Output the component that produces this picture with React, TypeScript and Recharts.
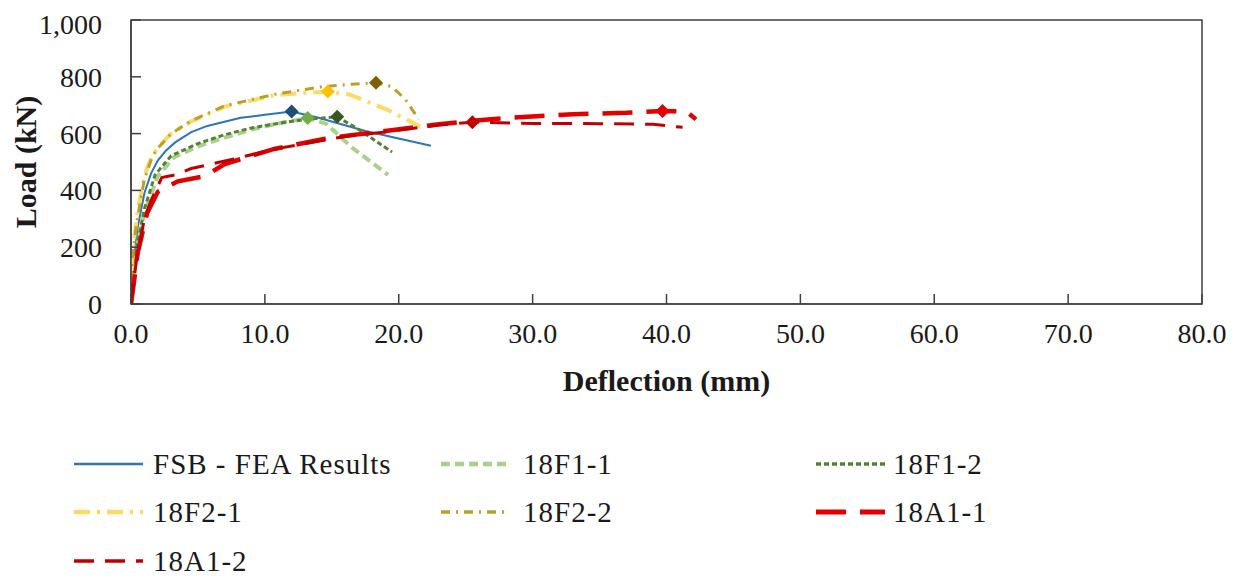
import React from "react";
import {
  ComposedChart,
  Line,
  Scatter,
  XAxis,
  YAxis,
  Legend,
  ReferenceArea,
} from "recharts";

// deflection (mm) / load (kN)
const fsbDefl = [0, 0.2, 0.5, 1, 1.5, 2, 2.6, 3.3, 4.5, 5.7, 8.2, 10, 12, 14, 17.5, 22.4];
const fsbLoad = [0, 150, 270, 390, 460, 505, 540, 569, 605, 627, 656, 666, 678, 656, 609, 557];

const f11Defl = [0, 0.2, 0.5, 1, 2, 3.2, 5, 7, 9.1, 10.7, 13.2, 14.6, 16.5, 19.2];
const f11Load = [0, 120, 210, 320, 450, 516, 555, 586, 615, 633, 655, 634, 551, 455];

const f12Defl = [0, 0.2, 0.4, 1, 1.8, 3, 5, 7, 9, 11.5, 13.5, 15.4, 17, 19.5];
const f12Load = [0, 110, 190, 335, 455, 522, 565, 596, 620, 640, 652, 659, 615, 535];

const f21Defl = [0, 0.1, 0.5, 1, 1.5, 2, 3, 4.5, 7, 10.7, 12.5, 14.7, 16.3, 19.2, 21.6];
const f21Load = [0, 180, 330, 450, 515, 550, 600, 643, 695, 735, 742, 748, 738, 683, 625];

const f22Defl = [0, 0.1, 0.4, 1, 1.6, 2, 3, 4.5, 7, 10.7, 12, 14.4, 16.5, 18.3, 19.5, 20.5, 21.5];
const f22Load = [0, 160, 280, 440, 520, 548, 600, 645, 698, 738, 748, 766, 774, 779, 765, 720, 650];

const a11Defl = [0, 0.2, 0.5, 1.2, 2, 3.5, 5.5, 7, 10.7, 14.4, 16, 19, 23, 25.5, 28.3, 33, 37, 39.7, 41.5, 42.2];
const a11Load = [0, 70, 180, 320, 395, 432, 450, 493, 546, 581, 592, 609, 633, 645, 656, 668, 673, 680, 678, 650];

const a12Defl = [0, 0.2, 0.4, 1, 1.5, 2.3, 3.3, 4.5, 7.7, 11, 16, 19, 23, 25.5, 30, 35, 39, 41.2];
const a12Load = [0, 80, 150, 300, 365, 445, 455, 477, 511, 548, 590, 606, 630, 640, 636, 635, 633, 622];

const xTicks = [0, 10, 20, 30, 40, 50, 60, 70, 80];
const yTicks = [0, 200, 400, 600, 800, 1000];

const zip = (xs: number[], ys: number[]) => xs.map((x, i) => ({ x, y: ys[i] }));

const series = [
  { name: "FSB - FEA Results", data: zip(fsbDefl, fsbLoad), color: "#2E75B6", width: 2, dash: undefined, marker: "#1F4E79" },
  { name: "18F1-1", data: zip(f11Defl, f11Load), color: "#A9D18E", width: 4, dash: "9 5", marker: "#70AD47" },
  { name: "18F1-2", data: zip(f12Defl, f12Load), color: "#548235", width: 3, dash: "5 3", marker: "#385723" },
  { name: "18F2-1", data: zip(f21Defl, f21Load), color: "#FFD966", width: 4, dash: "16 7 3 7", marker: "#FFC000" },
  { name: "18F2-2", data: zip(f22Defl, f22Load), color: "#B8A02A", width: 3, dash: "9 6 2 6", marker: "#7F6000" },
  { name: "18A1-1", data: zip(a11Defl, a11Load), color: "#E00000", width: 4.5, dash: "30 14", marker: "#E00000" },
  { name: "18A1-2", data: zip(a12Defl, a12Load), color: "#C00000", width: 3, dash: "20 11", marker: "#C00000" },
];

const peakOf = (pts: { x: number; y: number }[]) =>
  pts.reduce((best, p) => (p.y > best.y ? p : best), pts[0]);

const font = "'Liberation Serif', 'Times New Roman', serif";

const Diamond = (color: string) => (props: any) => {
  const { cx, cy } = props;
  const r = 7;
  return (
    <polygon
      points={`${cx},${cy - r} ${cx + r},${cy} ${cx},${cy + r} ${cx - r},${cy}`}
      fill={color}
    />
  );
};

// legend slots, chart coords: symbol start, text start
const legendCols = [65, 432, 807];
const legendText = [145, 515, 885];
const legendRows = [24, 72, 121];

const LegendBox = () => (
  <div style={{ position: "relative", width: 1234, height: 140, fontFamily: font }}>
    {series.map((s, i) => {
      const col = i % 3;
      const top = legendRows[Math.floor(i / 3)];
      return (
        <React.Fragment key={s.name}>
          <svg
            width={72}
            height={20}
            style={{ position: "absolute", left: legendCols[col], top: top - 10 }}
          >
            <line x1={1} y1={10} x2={70} y2={10} stroke={s.color} strokeWidth={s.width + 0.5} strokeDasharray={s.dash} />
          </svg>
          <span
            style={{
              position: "absolute",
              left: legendText[col],
              top: top - 18,
              lineHeight: "36px",
              fontSize: 29,
              letterSpacing: 1,
              color: "#1a1a1a",
              whiteSpace: "nowrap",
            }}
          >
            {s.name}
          </span>
        </React.Fragment>
      );
    })}
  </div>
);

export default function App() {
  return (
    <ComposedChart
      width={1234}
      height={572}
      margin={{ top: 12, right: 40, left: 5, bottom: 0 }}
    >
      <XAxis
        type="number"
        dataKey="x"
        domain={[0, 80]}
        ticks={xTicks}
        tickFormatter={(v: number) => v.toFixed(1)}
        allowDataOverflow
        height={136}
        stroke="#404040"
        strokeWidth={1.5}
        tickSize={-10}
        tickMargin={29}
        tick={{ fill: "#1a1a1a", fontSize: 28, fontFamily: font }}
        label={{
          value: "Deflection (mm)",
          position: "insideTop",
          offset: 66,
          style: { fontFamily: font, fontSize: 30, fontWeight: "bold", fill: "#1a1a1a" },
        }}
      />
      <YAxis
        type="number"
        dataKey="y"
        domain={[0, 1000]}
        ticks={yTicks}
        tickFormatter={(v: number) => v.toLocaleString("en-US")}
        width={118}
        stroke="#404040"
        strokeWidth={1.5}
        tickSize={-10}
        tickMargin={39}
        tick={{ fill: "#1a1a1a", fontSize: 28, fontFamily: font }}
        label={{
          value: "Load (kN)",
          angle: -90,
          position: "insideLeft",
          offset: 12,
          style: { fontFamily: font, fontSize: 30, fontWeight: "bold", fill: "#1a1a1a", textAnchor: "middle" },
        }}
      />
      <ReferenceArea x1={0} x2={80} y1={0} y2={1000} fill="none" stroke="#404040" strokeWidth={1.5} />
      {series.map((s) => (
        <Line
          key={s.name}
          data={s.data}
          dataKey="y"
          name={s.name}
          type="linear"
          stroke={s.color}
          strokeWidth={s.width}
          strokeDasharray={s.dash}
          dot={false}
          isAnimationActive={false}
        />
      ))}
      {series.map((s) => (
        <Scatter
          key={s.name + "-peak"}
          data={[peakOf(s.data)]}
          dataKey="y"
          shape={Diamond(s.marker)}
          legendType="none"
          isAnimationActive={false}
        />
      ))}
      <Legend
        verticalAlign="bottom"
        content={() => <LegendBox />}
        wrapperStyle={{ left: 0, width: 1234, height: 140 }}
      />
    </ComposedChart>
  );
}
